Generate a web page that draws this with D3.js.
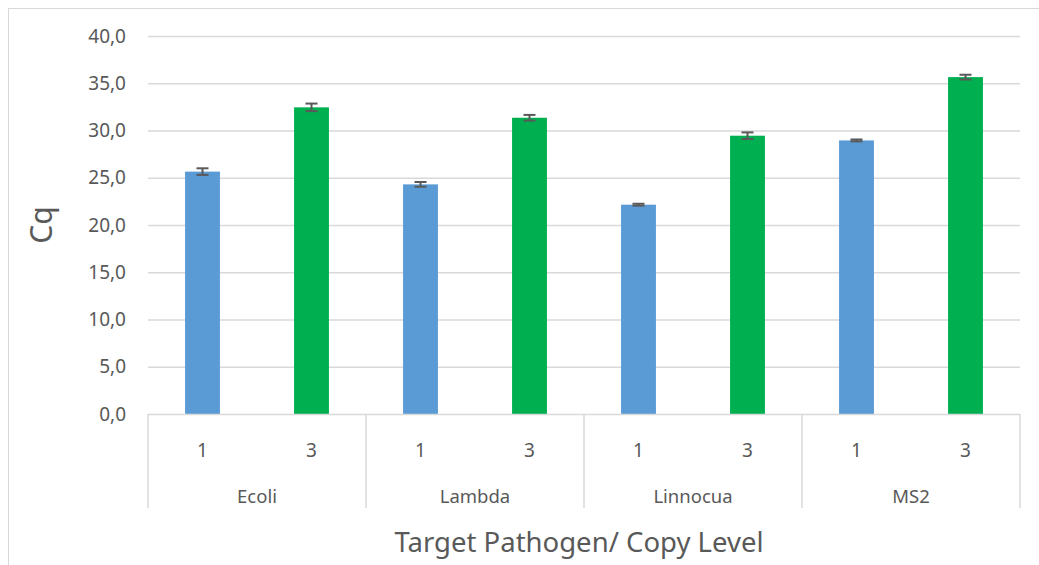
<!DOCTYPE html>
<html>
<head>
<meta charset="utf-8">
<script src="https://cdn.jsdelivr.net/npm/d3@7"></script>
<style>
body { margin: 0; background: #fff; }
svg { font-family: "Noto Sans", "Open Sans", sans-serif; }
</style>
</head>
<body>
<script>
var width = 1039, height = 565;

// data
var groups = ["Ecoli", "Lambda", "Linnocua", "MS2"];
var levels = ["1", "3"];
var cqLevel1 = [25.65, 24.3, 22.15, 28.95];
var cqLevel3 = [32.45, 31.35, 29.45, 35.65];
var errLevel1 = [0.35, 0.25, 0.1, 0.1];
var errLevel3 = [0.4, 0.3, 0.35, 0.25];
var yTicks = [0, 5, 10, 15, 20, 25, 30, 35, 40];

var colors = {"1": "#5b9bd5", "3": "#00b050"};

var rows = [];
groups.forEach(function (g, i) {
	rows.push({g: g, lvl: "1", v: cqLevel1[i], e: errLevel1[i]});
	rows.push({g: g, lvl: "3", v: cqLevel3[i], e: errLevel3[i]});
});

var pLeft = 148, pRight = 1020, pTop = 36, pBottom = 414;

var svg = d3.select("body").append("svg").attr("width", width).attr("height", height);

// chart frame
svg.append("rect").attr("x", 8.5).attr("y", 8.5).attr("width", 1040).attr("height", 570)
	.attr("fill", "none").attr("stroke", "#d9d9d9");

var y = d3.scaleLinear().domain([0, 40]).range([pBottom, pTop]);
var xg = d3.scaleBand().domain(groups).range([pLeft, pRight]);
var xs = d3.scaleBand().domain(levels).range([0, xg.bandwidth()]).paddingInner(0.68).paddingOuter(0.34);

// gridlines
svg.append("g").selectAll("line").data(yTicks.filter(function (d) { return d > 0; })).enter().append("line")
	.attr("x1", pLeft).attr("x2", pRight)
	.attr("y1", function (d) { return y(d) + 0.5; }).attr("y2", function (d) { return y(d) + 0.5; })
	.attr("stroke", "#d9d9d9").attr("stroke-width", 1.5);

// y axis labels
var yAxis = d3.axisLeft(y).tickValues(yTicks).tickSize(0).tickPadding(0)
	.tickFormat(function (d) { return d3.format(".1f")(d).replace(".", ","); });
var ya = svg.append("g").attr("transform", "translate(126,0)").call(yAxis);
ya.select(".domain").remove();
ya.selectAll("text").attr("fill", "#595959").style("font-size", "19px").style("font-family", "Noto Sans");

// bars
svg.append("g").selectAll("rect").data(rows).enter().append("rect")
	.attr("x", function (d) { return xg(d.g) + xs(d.lvl); })
	.attr("width", xs.bandwidth())
	.attr("y", function (d) { return y(d.v); })
	.attr("height", function (d) { return y(0) - y(d.v); })
	.attr("fill", function (d) { return colors[d.lvl]; });

// error bars
var eb = svg.append("g").attr("stroke", "#595959").attr("stroke-width", 2).selectAll("g").data(rows).enter().append("g")
	.attr("transform", function (d) { return "translate(" + (xg(d.g) + xs(d.lvl) + xs.bandwidth() / 2) + ",0)"; });
eb.append("line").attr("y1", function (d) { return y(d.v + d.e); }).attr("y2", function (d) { return y(d.v - d.e); });
eb.append("line").attr("x1", -6).attr("x2", 6).attr("y1", function (d) { return y(d.v + d.e); }).attr("y2", function (d) { return y(d.v + d.e); });
eb.append("line").attr("x1", -6).attr("x2", 6).attr("y1", function (d) { return y(d.v - d.e); }).attr("y2", function (d) { return y(d.v - d.e); });

// category axis
svg.append("line").attr("x1", pLeft).attr("x2", pRight).attr("y1", pBottom + 0.5).attr("y2", pBottom + 0.5)
	.attr("stroke", "#d9d9d9").attr("stroke-width", 1.5);
var seps = groups.map(function (g) { return xg(g); }).concat([pRight]);
svg.append("g").selectAll("line").data(seps).enter().append("line")
	.attr("x1", function (d) { return d; }).attr("x2", function (d) { return d; })
	.attr("y1", pBottom).attr("y2", 508)
	.attr("stroke", "#d9d9d9").attr("stroke-width", 1.5);

svg.append("g").selectAll("text").data(rows).enter().append("text")
	.attr("x", function (d) { return xg(d.g) + xs(d.lvl) + xs.bandwidth() / 2; })
	.attr("y", 457).attr("text-anchor", "middle")
	.attr("fill", "#595959").style("font-size", "19px")
	.text(function (d) { return d.lvl; });

svg.append("g").selectAll("text").data(groups).enter().append("text")
	.attr("x", function (d) { return xg(d) + xg.bandwidth() / 2; })
	.attr("y", 503).attr("text-anchor", "middle")
	.attr("fill", "#595959").style("font-size", "18.5px")
	.text(function (d) { return d; });

// axis titles
svg.append("text").attr("x", 579).attr("y", 552).attr("text-anchor", "middle")
	.attr("fill", "#595959").style("font-size", "27.5px").text("Target Pathogen/ Copy Level");
svg.append("text").attr("transform", "translate(52,225) rotate(-90)").attr("text-anchor", "middle")
	.attr("fill", "#595959").style("font-size", "30px").text("Cq");
</script>
</body>
</html>
